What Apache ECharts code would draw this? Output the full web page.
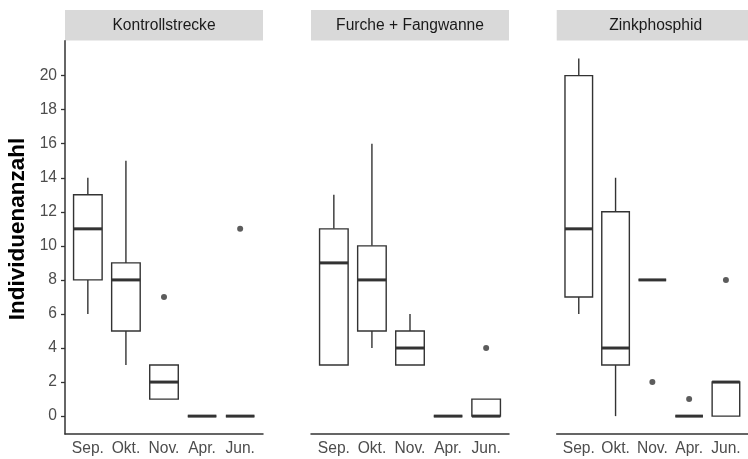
<!DOCTYPE html>
<html>
<head>
<meta charset="utf-8">
<script src="https://cdn.jsdelivr.net/npm/echarts@6/dist/echarts.min.js"></script>
<style>
html,body{margin:0;padding:0;background:#fff;}
#chart{width:748px;height:459px;}
</style>
</head>
<body>
<div id="chart"></div>
<script>
// ---- data ----
var months = ['Sep.', 'Okt.', 'Nov.', 'Apr.', 'Jun.'];
var panelTitles = ['Kontrollstrecke', 'Furche + Fangwanne', 'Zinkphosphid'];
var yTitle = 'Individuenanzahl';
var yTicks = [0, 2, 4, 6, 8, 10, 12, 14, 16, 18, 20];
// [min, Q1, median, Q3, max] per month
var kontrollBox = [[6, 8, 11, 13, 14], [3, 5, 8, 9, 15], [1, 1, 2, 3, 3], [0, 0, 0, 0, 0], [0, 0, 0, 0, 0]];
var furcheBox   = [[3, 3, 9, 11, 13], [4, 5, 8, 10, 16], [3, 3, 4, 5, 6], [0, 0, 0, 0, 0], [0, 0, 0, 1, 1]];
var zinkBox     = [[6, 7, 11, 20, 21], [0, 3, 4, 12, 14], [8, 8, 8, 8, 8], [0, 0, 0, 0, 0], [0, 0, 2, 2, 2]];
// outliers: [month index, value]
var kontrollOut = [[2, 7], [4, 11]];
var furcheOut   = [[4, 4]];
var zinkOut     = [[2, 2], [3, 1], [4, 8]];

// ---- chart ----
var FONT = 'Liberation Sans, Arial, sans-serif';
var LINE = '#333333';
var FS = 15.6;
var panels = [
  {box: kontrollBox, out: kontrollOut, left: 65},
  {box: furcheBox, out: furcheOut, left: 311},
  {box: zinkBox, out: zinkOut, left: 556.7}
];
var PW = 198, TOP = 40.7, H = 393.3;

var grids = [], xAxes = [], yAxes = [], series = [], graphics = [];
panels.forEach(function (p, i) {
  grids.push({left: p.left, top: TOP, width: PW, height: H, containLabel: false});
  xAxes.push({
    type: 'value', gridIndex: i, min: 0.4, max: 5.6,
    axisLine: {show: true, onZero: false, lineStyle: {color: LINE, width: 1.5}},
    axisTick: {show: false},
    splitLine: {show: false},
    axisLabel: {
      customValues: [1, 2, 3, 4, 5],
      formatter: function (v) { return months[Math.round(v) - 1] || ''; },
      color: '#4d4d4d', fontSize: FS, fontFamily: FONT, margin: 7
    }
  });
  yAxes.push({
    type: 'value', gridIndex: i, min: -1.05, max: 22.05,
    splitLine: {show: false},
    axisLine: {show: i === 0, lineStyle: {color: LINE, width: 1.5}},
    axisTick: {show: i === 0, customValues: yTicks, length: 4, lineStyle: {color: LINE, width: 1.3}},
    axisLabel: {show: i === 0, customValues: yTicks, color: '#4d4d4d', fontSize: FS, fontFamily: FONT, margin: 8}
  });
  series.push({
    type: 'custom', xAxisIndex: i, yAxisIndex: i,
    data: p.box.map(function (b, k) { return [k + 1, b[0], b[1], b[2], b[3], b[4]]; }),
    encode: {x: 0, y: [1, 2, 3, 4, 5]},
    renderItem: function (params, api) {
      var x = api.value(0);
      var hw = api.size([0.75, 0])[0] / 2;
      var pMin = api.coord([x, api.value(1)]);
      var pQ1 = api.coord([x, api.value(2)]);
      var pMed = api.coord([x, api.value(3)]);
      var pQ3 = api.coord([x, api.value(4)]);
      var pMax = api.coord([x, api.value(5)]);
      var st = {stroke: LINE, lineWidth: 1.4, fill: null};
      var ch = [];
      if (pMax[1] < pQ3[1]) ch.push({type: 'line', shape: {x1: pMax[0], y1: pMax[1], x2: pQ3[0], y2: pQ3[1]}, style: st});
      if (pMin[1] > pQ1[1]) ch.push({type: 'line', shape: {x1: pMin[0], y1: pMin[1], x2: pQ1[0], y2: pQ1[1]}, style: st});
      ch.push({type: 'rect', shape: {x: pQ3[0] - hw, y: pQ3[1], width: hw * 2, height: pQ1[1] - pQ3[1]},
        style: {stroke: LINE, lineWidth: 1.4, fill: '#fff'}});
      ch.push({type: 'line', shape: {x1: pMed[0] - hw, y1: pMed[1], x2: pMed[0] + hw, y2: pMed[1]},
        style: {stroke: LINE, lineWidth: 3}});
      return {type: 'group', children: ch};
    },
    silent: true, animation: false
  });
  series.push({
    type: 'scatter', xAxisIndex: i, yAxisIndex: i,
    data: p.out.map(function (o) { return [o[0] + 1, o[1]]; }),
    symbolSize: 6, itemStyle: {color: LINE},
    silent: true, animation: false
  });
  graphics.push({
    type: 'rect', left: p.left, top: 10, shape: {width: PW, height: 30.5},
    style: {fill: '#d9d9d9'}, z: 0
  });
  graphics.push({
    type: 'text', x: p.left + PW / 2, y: 25.5,
    style: {text: panelTitles[i], fill: '#1a1a1a', font: FS + 'px ' + FONT, textAlign: 'center', textVerticalAlign: 'middle'}
  });
});
graphics.push({
  type: 'text', x: 18, y: 229, rotation: Math.PI / 2,
  style: {text: yTitle, fill: '#000', font: 'bold 22.5px ' + FONT, textAlign: 'center', textVerticalAlign: 'middle'}
});

var chart = echarts.init(document.getElementById('chart'), null, {renderer: 'canvas'});
chart.setOption({
  backgroundColor: '#ffffff',
  animation: false,
  grid: grids, xAxis: xAxes, yAxis: yAxes, series: series,
  graphic: graphics
});
</script>
</body>
</html>
